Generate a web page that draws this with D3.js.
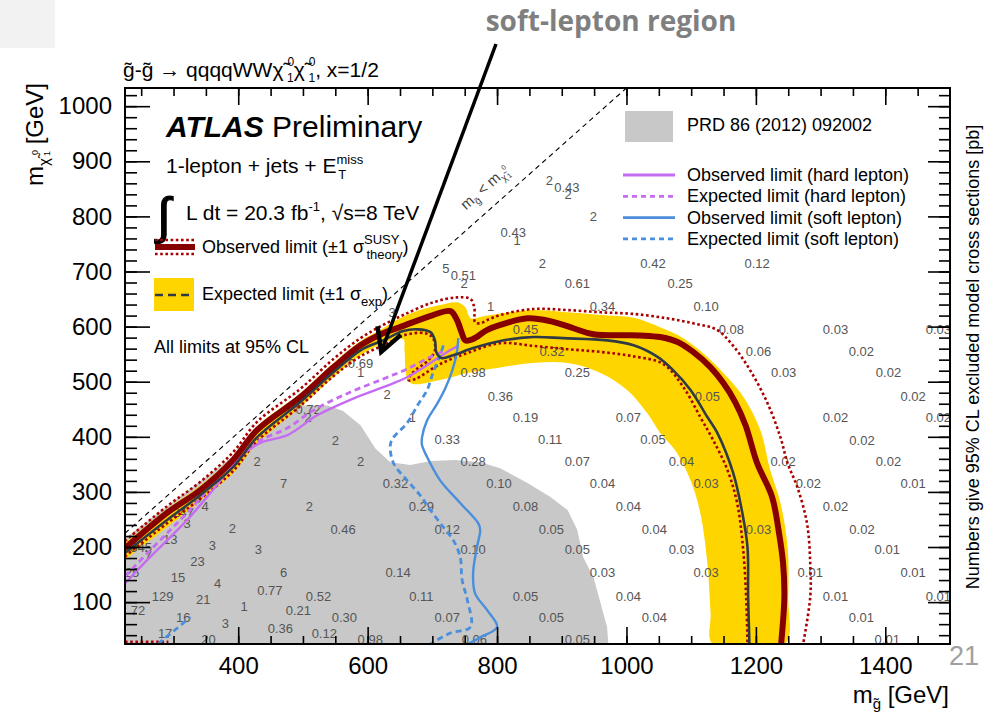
<!DOCTYPE html>
<html>
<head>
<meta charset="utf-8">
<script src="https://d3js.org/d3.v7.min.js"></script>
<style>
  body { margin: 0; background: #fff; }
  svg { display: block; font-family: "Liberation Sans", Arial, Helvetica, sans-serif; }
</style>
</head>
<body>
<svg width="999" height="715"></svg>
<script>
// ---- DATA (all in GeV: [m_gluino, m_neutralino]) ----
const xDomain = [225, 1500];
const yDomain = [24, 1033];
const xTickLabels = [400, 600, 800, 1000, 1200, 1400];
const yTickLabels = [100, 200, 300, 400, 500, 600, 700, 800, 900, 1000];

const kinLimit = [[225, 225], [1000, 1033]];

const prdExcluded = [[225,216],[476,439],[496,457],[538,457],[562,447],[589,421],[612,379],[635,354],[666,349],[697,356],[735,358],[774,354],[805,343],[847,316],[882,291],[909,267],[924,231],[933,182],[949,145],[960,98],[970,55],[972,24],[225,24]];

const expBandUpper = [[225,207],[290,269],[341,311],[392,365],[429,419],[496,479],[547,534],[589,574],[624,597],[650,615],[681,630],[712,639],[738,644],[751,635],[759,615],[779,619],[820,626],[856,630],[909,626],[960,621],[1011,616],[1052,599],[1088,579],[1125,545],[1156,508],[1181,472],[1207,412],[1222,340],[1238,280],[1249,200],[1250,109],[1245,24]];
const expBandLower = [[225,177],[290,236],[341,283],[392,334],[429,387],[496,454],[547,508],[589,548],[624,570],[655,577],[657,557],[661,506],[670,496],[712,503],[754,516],[805,526],[856,534],[909,534],[960,516],[1001,485],[1032,443],[1052,407],[1075,376],[1099,321],[1114,262],[1125,171],[1130,80],[1133,24]];

const expLimit = [[225,189],[290,249],[341,294],[392,345],[429,399],[496,463],[547,517],[589,557],[624,575],[655,592],[677,595],[697,590],[704,575],[706,554],[714,543],[732,548],[763,561],[805,574],[856,581],[902,579],[970,575],[1011,566],[1048,545],[1072,521],[1099,485],[1125,436],[1140,408],[1165,334],[1179,262],[1187,200],[1188,109],[1190,24]];

const obsLimit = [[225,198],[290,262],[341,303],[392,358],[429,412],[496,472],[547,526],[589,566],[624,588],[650,599],[701,621],[728,628],[738,612],[745,590],[751,575],[762,577],[785,594],[805,603],[847,615],[882,610],[918,597],[949,586],[1021,584],[1052,581],[1079,572],[1103,554],[1130,526],[1150,497],[1168,463],[1184,421],[1202,352],[1225,291],[1235,231],[1242,171],[1244,109],[1239,24]];

const obsTheoryUp = [[225,211],[290,274],[341,318],[392,372],[429,427],[496,487],[547,541],[589,579],[624,603],[655,621],[701,644],[738,653],[759,650],[765,633],[766,608],[774,606],[785,612],[805,621],[856,632],[909,630],[960,626],[1011,623],[1063,615],[1103,606],[1140,594],[1165,565],[1191,521],[1218,461],[1238,399],[1249,352],[1264,309],[1279,243],[1284,171],[1284,109],[1273,24]];
const obsTheoryDown = [[225,183],[290,243],[341,287],[392,338],[429,392],[496,456],[547,510],[589,546],[635,572],[655,584],[689,588],[701,579],[704,557],[694,539],[670,517],[663,503],[674,505],[712,532],[754,552],[805,570],[856,565],[909,559],[960,554],[1011,546],[1057,532],[1088,490],[1114,436],[1134,394],[1156,340],[1171,280],[1180,200],[1185,109],[1187,24]];
const obsTheoryLowCorner = [[225,28],[292,28]];

const hardObs = [[225,134],[264,182],[295,218],[321,249],[357,298],[403,363],[434,389],[476,403],[522,439],[573,467],[624,490],[661,508],[701,537],[723,554],[740,565]];
const hardExp = [[225,147],[264,194],[295,231],[321,262],[357,309],[403,372],[434,394],[476,416],[516,448],[573,481],[624,505],[661,523],[697,545],[720,557]];

const softObs = [[740,579],[738,554],[731,521],[720,488],[708,461],[692,430],[684,399],[684,385],[692,363],[712,321],[743,280],[771,243],[774,231],[769,200],[763,153],[766,116],[785,85],[800,55],[774,36],[755,24]];
const softExp = [[717,566],[712,548],[701,516],[692,485],[677,457],[661,425],[640,399],[635,385],[640,352],[661,321],[681,294],[697,267],[717,236],[732,213],[743,182],[746,140],[754,104],[759,55],[728,44],[697,24]];
const softExpCorner = [[276,24],[287,35],[306,53],[326,73]];

// excluded model cross sections [pb]
const xsecLabels = [
  [881,866,"2"],[908,853,"0.43"],[910,839,"2"],[949,799,"2"],[825,771,"0.43"],[831,757,"1"],
  [870,715,"2"],[1041,715,"0.42"],[1202,715,"0.12"],
  [721,706,"5"],[748,693,"0.51"],[749,679,"2"],[924,679,"0.61"],[1083,679,"0.25"],
  [638,626,"3"],[790,637,"1"],[963,637,"0.34"],[1123,637,"0.10"],
  [844,595,"0.45"],[1162,595,"0.08"],[1323,595,"0.03"],[1482,595,"0.03"],
  [589,534,"0.69"],[589,516,"1"],[885,554,"0.32"],[1204,554,"0.06"],[1363,554,"0.02"],
  [763,516,"0.98"],[924,516,"0.25"],[1243,516,"0.03"],[1405,516,"0.02"],
  [630,476,"2"],[805,474,"0.36"],[1125,474,"0.05"],[1443,474,"0.02"],
  [508,450,"0.72"],[508,436,"2"],[669,436,"1"],[844,436,"0.19"],[1003,436,"0.07"],[1323,436,"0.02"],[1482,436,"0.02"],
  [550,394,"2"],[723,396,"0.33"],[882,396,"0.11"],[1041,396,"0.05"],[1364,394,"0.02"],
  [429,356,"2"],[589,356,"2"],[763,356,"0.28"],[924,356,"0.07"],[1085,356,"0.04"],[1242,356,"0.02"],[1405,356,"0.02"],
  [470,316,"7"],[643,316,"0.32"],[803,316,"0.10"],[963,316,"0.04"],[1123,316,"0.03"],[1281,316,"0.02"],[1443,316,"0.01"],
  [337,289,"3"],[349,274,"4"],[315,262,"247"],[321,243,"3"],[510,274,"2"],[683,274,"0.29"],[844,274,"0.08"],[1003,274,"0.04"],[1323,274,"0.02"],
  [391,234,"2"],[562,232,"0.46"],[723,232,"0.12"],[884,232,"0.05"],[1043,232,"0.04"],[1204,232,"0.03"],[1364,232,"0.02"],
  [250,200,"345"],[295,213,"13"],[360,202,"3"],[431,196,"3"],[763,196,"0.10"],[924,196,"0.05"],[1085,196,"0.03"],[1403,196,"0.01"],
  [261,185,"7"],[337,174,"23"],[236,153,"25"],[307,144,"15"],[470,153,"6"],[647,153,"0.14"],[963,153,"0.03"],[1123,153,"0.03"],[1284,153,"0.01"],[1443,153,"0.01"],
  [368,133,"4"],[449,122,"0.77"],[283,111,"129"],[346,105,"21"],[524,111,"0.52"],[683,111,"0.11"],[844,111,"0.05"],[1003,111,"0.04"],[1323,111,"0.01"],[1482,111,"0.01"],
  [409,93,"1"],[245,84,"72"],[493,84,"0.21"],[564,73,"0.30"],[315,73,"16"],[380,62,"3"],[723,73,"0.07"],[884,73,"0.05"],[1043,73,"0.04"],[1363,73,"0.01"],
  [465,53,"0.36"],[287,44,"17"],[533,44,"0.12"],[354,33,"20"],[604,33,"0.98"],[765,33,"0.06"],[924,33,"0.05"],[1403,33,"0.01"]
];

// ---- SETUP ----
const svg = d3.select("svg");
const margin = { left: 125, right: 950, top: 88, bottom: 644 };
const x = d3.scaleLinear().domain(xDomain).range([margin.left, margin.right]);
const y = d3.scaleLinear().domain(yDomain).range([margin.bottom, margin.top]);

const RED = "#870000", RED_DOT = "#a80000", YELLOW = "#ffd500", DARK = "#2f3a44";
const PURPLE = "#c66cf2", BLUE = "#4a8edc", GREY = "#c8c8c8";

const line = d3.line().x(d => x(d[0])).y(d => y(d[1])).curve(d3.curveCatmullRom.alpha(0.5));
const straight = d3.line().x(d => x(d[0])).y(d => y(d[1]));

// helper for text with super/subscripts
function richText(g, x0, y0, parts, attrs) {
  const t = g.append("text").attr("x", x0).attr("y", y0);
  Object.entries(attrs || {}).forEach(([k, v]) => t.attr(k, v));
  parts.forEach(p => {
    const s = t.append("tspan").text(p.t);
    if (p.fs) s.attr("font-size", p.fs);
    if (p.dx) s.attr("dx", p.dx);
    if (p.dy) s.attr("dy", p.dy);
    if (p.fw) s.attr("font-weight", p.fw);
    if (p.fst) s.attr("font-style", p.fst);
  });
  return t;
}

// page decoration
svg.append("rect").attr("x", 0).attr("y", 0).attr("width", 55).attr("height", 48).attr("fill", "#f2f2f2");

// ---- PLOT CONTENT ----
svg.append("clipPath").attr("id", "clip")
  .append("rect").attr("x", margin.left).attr("y", margin.top)
  .attr("width", margin.right - margin.left).attr("height", margin.bottom - margin.top);
const plot = svg.append("g").attr("clip-path", "url(#clip)");

// previous result
plot.append("path").attr("d", straight(prdExcluded) + "Z").attr("fill", GREY);

// expected +-1 sigma band
plot.append("path")
  .attr("d", line(expBandUpper.concat(expBandLower.slice().reverse())) + "Z")
  .attr("fill", YELLOW);

// numbers
plot.append("g").selectAll("text").data(xsecLabels).join("text")
  .attr("x", d => x(d[0])).attr("y", d => y(d[1])).attr("dy", "0.35em")
  .attr("text-anchor", "middle").attr("font-size", 13).attr("fill", "#555")
  .text(d => d[2]);

// theory +-1 sigma dotted
[obsTheoryUp, obsTheoryDown, obsTheoryLowCorner].forEach(c => {
  plot.append("path").attr("d", line(c)).attr("fill", "none")
    .attr("stroke", RED_DOT).attr("stroke-width", 2.6).attr("stroke-dasharray", "2.6,2.6");
});

// hard lepton
plot.append("path").attr("d", line(hardExp)).attr("fill", "none")
  .attr("stroke", PURPLE).attr("stroke-width", 2.8).attr("stroke-dasharray", "6,4");
plot.append("path").attr("d", line(hardObs)).attr("fill", "none")
  .attr("stroke", PURPLE).attr("stroke-width", 2.4);

// soft lepton
[softExp, softExpCorner].forEach(c => {
  plot.append("path").attr("d", line(c)).attr("fill", "none")
    .attr("stroke", BLUE).attr("stroke-width", 2.8).attr("stroke-dasharray", "6,4");
});
plot.append("path").attr("d", line(softObs)).attr("fill", "none")
  .attr("stroke", BLUE).attr("stroke-width", 2.4);

// combined expected / observed
plot.append("path").attr("d", line(obsLimit)).attr("fill", "none")
  .attr("stroke", RED).attr("stroke-width", 6).attr("stroke-linejoin", "round");
plot.append("path").attr("d", line(expLimit)).attr("fill", "none")
  .attr("stroke", DARK).attr("stroke-width", 2.6);

// kinematic limit
plot.append("path").attr("d", straight(kinLimit)).attr("fill", "none")
  .attr("stroke", "#000").attr("stroke-width", 1.1).attr("stroke-dasharray", "5,4");

// kinematic label along diagonal
const ang = Math.atan2(y(kinLimit[1][1]) - y(kinLimit[0][1]), x(kinLimit[1][0]) - x(kinLimit[0][0])) * 180 / Math.PI;
richText(svg.append("g").attr("transform", `translate(${x(786)},${y(846)}) rotate(${ang})`), 0, 0, [
  { t: "m" }, { t: "g\u0303", fs: 10, dy: 4 }, { t: " < m", dy: -4 },
  { t: "\u03c7\u0303", fs: 10, dy: 4 }, { t: "0", fs: 7, dx: 2, dy: -9 }, { t: "1", fs: 7, dx: -5, dy: 10 }
], { "font-size": 15, fill: "#444", "text-anchor": "middle" });

// ---- AXES ----
function styleAxis(g) {
  g.select(".domain").remove();
  g.selectAll("line").attr("stroke", "#000").attr("stroke-width", 1.6);
  g.selectAll("text").attr("font-size", 24).attr("fill", "#000")
    .attr("font-family", '"Liberation Sans", Arial, sans-serif');
}
const xMinor = d3.range(250, 1500, 50);
const yMinor = d3.range(40, 1033, 20);

svg.append("g").attr("transform", `translate(0,${margin.bottom})`)
  .call(d3.axisBottom(x).tickValues(xMinor).tickSize(-8).tickFormat("")).call(styleAxis);
svg.append("g").attr("transform", `translate(0,${margin.bottom})`)
  .call(d3.axisBottom(x).tickValues(xTickLabels).tickSize(-17).tickPadding(13).tickFormat(d3.format("d"))).call(styleAxis);
svg.append("g").attr("transform", `translate(0,${margin.top})`)
  .call(d3.axisTop(x).tickValues(xMinor).tickSize(-8).tickFormat("")).call(styleAxis);
svg.append("g").attr("transform", `translate(0,${margin.top})`)
  .call(d3.axisTop(x).tickValues(xTickLabels).tickSize(-17).tickFormat("")).call(styleAxis);

svg.append("g").attr("transform", `translate(${margin.left},0)`)
  .call(d3.axisLeft(y).tickValues(yMinor).tickSize(-12).tickFormat("")).call(styleAxis);
svg.append("g").attr("transform", `translate(${margin.left},0)`)
  .call(d3.axisLeft(y).tickValues(yTickLabels).tickSize(-25).tickPadding(13).tickFormat(d3.format("d"))).call(styleAxis);
svg.append("g").attr("transform", `translate(${margin.right},0)`)
  .call(d3.axisRight(y).tickValues(yMinor).tickSize(-11).tickFormat("")).call(styleAxis);
svg.append("g").attr("transform", `translate(${margin.right},0)`)
  .call(d3.axisRight(y).tickValues(yTickLabels).tickSize(-22).tickFormat("")).call(styleAxis);

svg.append("rect").attr("x", margin.left).attr("y", margin.top)
  .attr("width", margin.right - margin.left).attr("height", margin.bottom - margin.top)
  .attr("fill", "none").attr("stroke", "#000").attr("stroke-width", 2);

// axis titles
richText(svg, 949, 703, [{ t: "m" }, { t: "g\u0303", fs: 15, dy: 6 }, { t: " [GeV]", dy: -6 }],
  { "font-size": 24, "text-anchor": "end" });
richText(svg.append("g").attr("transform", "translate(43,83) rotate(-90)"), 0, 0, [
  { t: "m" }, { t: "\u03c7\u0303", fs: 15, dy: 6 }, { t: "0", fs: 9, dx: 3, dy: -11 },
  { t: "1", fs: 9, dx: -6, dy: 12 }, { t: " [GeV]", dy: -7 }
], { "font-size": 24, "text-anchor": "end" });
svg.append("text").attr("transform", "translate(979,357) rotate(-90)")
  .attr("text-anchor", "middle").attr("font-size", 18)
  .text("Numbers give 95% CL excluded model cross sections [pb]");

// title
richText(svg, 123, 77, [
  { t: "g\u0303-g\u0303 \u2192 qqqqWW\u03c7\u0303" }, { t: "0", fs: 12, dx: 4, dy: -11 }, { t: "1", fs: 12, dx: -7, dy: 16 },
  { t: "\u03c7\u0303", dy: -5 }, { t: "0", fs: 12, dx: 4, dy: -11 }, { t: "1", fs: 12, dx: -7, dy: 16 },
  { t: ", x=1/2", dy: -5 }
], { "font-size": 21 });

// ---- LEFT LEGEND ----
const lg = svg.append("g");
richText(lg, 166, 137, [{ t: "ATLAS", fw: "bold", fst: "italic" }, { t: " Preliminary" }], { "font-size": 30 });
richText(lg, 166, 173, [{ t: "1-lepton + jets + E" }, { t: "miss", fs: 13, dy: -9 }, { t: "T", fs: 13, dx: -25, dy: 15 }],
  { "font-size": 21 });
lg.append("text").attr("x", 157).attr("y", 233).attr("font-size", 50)
  .attr("stroke", "#000").attr("stroke-width", 1.2)
  .text("\u222b");
richText(lg, 186, 220, [{ t: "L dt = 20.3 fb" }, { t: "-1", fs: 13, dy: -9 }, { t: ", \u221as=8 TeV", dy: 9 }],
  { "font-size": 21 });

lg.append("line").attr("x1", 155).attr("x2", 195).attr("y1", 247).attr("y2", 247)
  .attr("stroke", RED).attr("stroke-width", 6);
[240, 254].forEach(yy => lg.append("line").attr("x1", 155).attr("x2", 195).attr("y1", yy).attr("y2", yy)
  .attr("stroke", RED_DOT).attr("stroke-width", 2.6).attr("stroke-dasharray", "2.6,2.6"));
richText(lg, 202, 253, [
  { t: "Observed limit (\u00b11 \u03c3" }, { t: "SUSY", fs: 13, dy: -9 }, { t: "theory", fs: 13, dx: -33, dy: 15 },
  { t: ")", dy: -6 }
], { "font-size": 18 });

lg.append("rect").attr("x", 154).attr("y", 278).attr("width", 40).attr("height", 33).attr("fill", YELLOW);
lg.append("line").attr("x1", 155).attr("x2", 194).attr("y1", 295).attr("y2", 295)
  .attr("stroke", DARK).attr("stroke-width", 2.6).attr("stroke-dasharray", "8,5");
richText(lg, 202, 300, [{ t: "Expected limit (\u00b11 \u03c3" }, { t: "exp", fs: 13, dy: 6 }, { t: ")", dy: -6 }],
  { "font-size": 18 });
lg.append("text").attr("x", 154).attr("y", 353).attr("font-size", 18).text("All limits at 95% CL");

// ---- RIGHT LEGEND ----
const rg = svg.append("g");
rg.append("rect").attr("x", 625).attr("y", 111).attr("width", 48).attr("height", 31).attr("fill", GREY);
rg.append("text").attr("x", 687).attr("y", 131).attr("font-size", 18).text("PRD 86 (2012) 092002");
const rItems = [
  ["Observed limit (hard lepton)", PURPLE, null],
  ["Expected limit (hard lepton)", PURPLE, "5,4"],
  ["Observed limit (soft lepton)", BLUE, null],
  ["Expected limit (soft lepton)", BLUE, "5,4"]
];
rItems.forEach((it, i) => {
  const yy = 175 + i * 21.3;
  rg.append("line").attr("x1", 623).attr("x2", 675).attr("y1", yy).attr("y2", yy)
    .attr("stroke", it[1]).attr("stroke-width", 2.8).attr("stroke-dasharray", it[2]);
  rg.append("text").attr("x", 687).attr("y", yy + 6).attr("font-size", 18).text(it[0]);
});

// ---- SLIDE ANNOTATION ----
svg.append("text").attr("x", 611).attr("y", 31).attr("text-anchor", "middle")
  .attr("font-family", '"Open Sans", sans-serif').attr("font-weight", "bold")
  .attr("font-size", 28).attr("fill", "#7f7f7f").text("soft-lepton region");
const tip = [x(621), y(554)], from = [496, 44];
const a = Math.atan2(from[1] - tip[1], from[0] - tip[0]);
const arm = 26, spread = 0.5;
svg.append("line").attr("x1", from[0]).attr("y1", from[1]).attr("x2", tip[0]).attr("y2", tip[1])
  .attr("stroke", "#000").attr("stroke-width", 3.5);
svg.append("path")
  .attr("d", `M${tip[0] + arm * Math.cos(a - spread)},${tip[1] + arm * Math.sin(a - spread)}L${tip[0]},${tip[1]}L${tip[0] + arm * Math.cos(a + spread)},${tip[1] + arm * Math.sin(a + spread)}`)
  .attr("fill", "none").attr("stroke", "#000").attr("stroke-width", 4.5).attr("stroke-linejoin", "miter");

svg.append("text").attr("x", 964).attr("y", 665).attr("text-anchor", "middle")
  .attr("font-size", 27).attr("fill", "#a0a0a0").text("21");
</script>
</body>
</html>
